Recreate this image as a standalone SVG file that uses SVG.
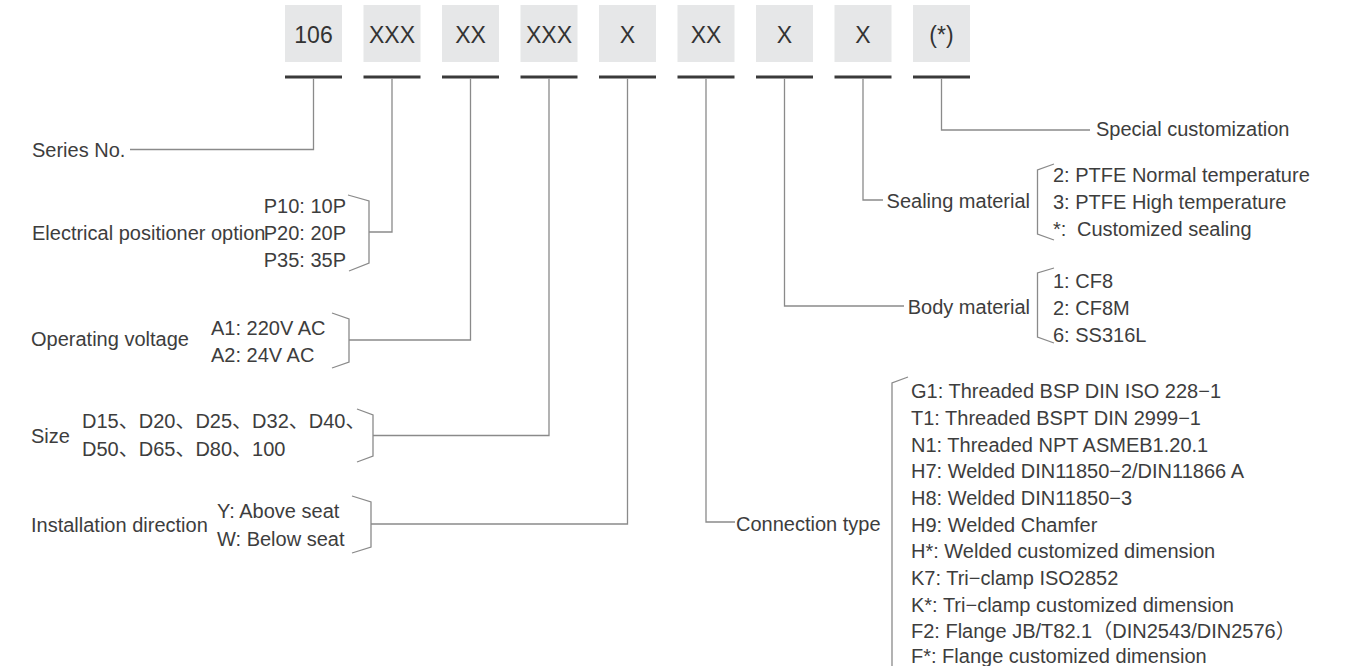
<svg xmlns="http://www.w3.org/2000/svg" width="1347" height="666" viewBox="0 0 1347 666">
<style>
.bx{fill:#e6e7e8}
.bt{font-family:"Liberation Sans",Arial,sans-serif;font-size:23px;fill:#333;text-anchor:middle}
.ul{stroke:#3a3a3a;stroke-width:3;fill:none}
.cn{stroke:#8a8a8a;stroke-width:1.3;fill:none}
.t{font-family:"Liberation Sans","Noto Sans CJK SC",sans-serif;font-size:20px;fill:#3d3d3d}
.e{text-anchor:end}
</style>
<rect width="1347" height="666" fill="#fff"/>
<g id="code">
<g id="c0"><rect class="bx" x="285" y="5" width="57" height="57"/><text class="bt" x="313.5" y="43">106</text><line class="ul" x1="285" y1="77" x2="342" y2="77"/></g>
<g id="c1"><rect class="bx" x="363.5" y="5" width="57" height="57"/><text class="bt" x="392" y="43">XXX</text><line class="ul" x1="363.5" y1="77" x2="420.5" y2="77"/></g>
<g id="c2"><rect class="bx" x="442" y="5" width="57" height="57"/><text class="bt" x="470.5" y="43">XX</text><line class="ul" x1="442" y1="77" x2="499" y2="77"/></g>
<g id="c3"><rect class="bx" x="520.5" y="5" width="57" height="57"/><text class="bt" x="549" y="43">XXX</text><line class="ul" x1="520.5" y1="77" x2="577.5" y2="77"/></g>
<g id="c4"><rect class="bx" x="599" y="5" width="57" height="57"/><text class="bt" x="627.5" y="43">X</text><line class="ul" x1="599" y1="77" x2="656" y2="77"/></g>
<g id="c5"><rect class="bx" x="677.5" y="5" width="57" height="57"/><text class="bt" x="706" y="43">XX</text><line class="ul" x1="677.5" y1="77" x2="734.5" y2="77"/></g>
<g id="c6"><rect class="bx" x="756" y="5" width="57" height="57"/><text class="bt" x="784.5" y="43">X</text><line class="ul" x1="756" y1="77" x2="813" y2="77"/></g>
<g id="c7"><rect class="bx" x="834.5" y="5" width="57" height="57"/><text class="bt" x="863" y="43">X</text><line class="ul" x1="834.5" y1="77" x2="891.5" y2="77"/></g>
<g id="c8"><rect class="bx" x="913" y="5" width="57" height="57"/><text class="bt" x="941.5" y="43">(*)</text><line class="ul" x1="913" y1="77" x2="970" y2="77"/></g>
</g>
<g id="connectors">
<path class="cn" d="M130 149.5H313.5V78.5"/>
<path class="cn" d="M369 232H392V78.5"/>
<path class="cn" d="M349 340H470.5V78.5"/>
<path class="cn" d="M373 435.5H549V78.5"/>
<path class="cn" d="M371 524H627.5V78.5"/>
<path class="cn" d="M735 522H706V78.5"/>
<path class="cn" d="M904 306H784.5V78.5"/>
<path class="cn" d="M883 200H863V78.5"/>
<path class="cn" d="M1090 130H941.5V78.5"/>
</g>
<g id="series">
<text class="t" x="32" y="157">Series No.</text>
</g>
<g id="positioner">
<text class="t" x="32" y="240">Electrical positioner option</text>
<text class="t e" x="346" y="213">P10: 10P</text>
<text class="t e" x="346" y="240">P20: 20P</text>
<text class="t e" x="346" y="267">P35: 35P</text>
<path class="cn" d="M348 195L369 201V263L349 271"/>
</g>
<g id="voltage">
<text class="t" x="31" y="346">Operating voltage</text>
<text class="t" x="211" y="335">A1: 220V AC</text>
<text class="t" x="211" y="362">A2: 24V AC</text>
<path class="cn" d="M332 313L349 319V362L332 368"/>
</g>
<g id="size">
<text class="t" x="31" y="443">Size</text>
<text class="t" x="82" y="428">D15、D20、D25、D32、D40、</text>
<text class="t" x="82" y="456">D50、D65、D80、100</text>
<path class="cn" d="M357 409L373 415V456L357 462"/>
</g>
<g id="direction">
<text class="t" x="31" y="532">Installation direction</text>
<text class="t" x="217" y="518">Y: Above seat</text>
<text class="t" x="217" y="546">W: Below seat</text>
<path class="cn" d="M352 496L371 502V547L352 553"/>
</g>
<g id="connection">
<text class="t" x="736" y="531">Connection type</text>
<path class="cn" d="M908 377L892 383V666"/>
<text class="t" x="911" y="398">G1: Threaded BSP DIN ISO 228−1</text>
<text class="t" x="911" y="425">T1: Threaded BSPT DIN 2999−1</text>
<text class="t" x="911" y="451.5">N1: Threaded NPT ASMEB1.20.1</text>
<text class="t" x="911" y="478">H7: Welded DIN11850−2/DIN11866 A</text>
<text class="t" x="911" y="505">H8: Welded DIN11850−3</text>
<text class="t" x="911" y="531.5">H9: Welded Chamfer</text>
<text class="t" x="911" y="558">H*: Welded customized dimension</text>
<text class="t" x="911" y="585">K7: Tri−clamp ISO2852</text>
<text class="t" x="911" y="611.5">K*: Tri−clamp customized dimension</text>
<text class="t" x="911" y="638">F2: Flange JB/T82.1（DIN2543/DIN2576）</text>
<text class="t" x="911" y="663">F*: Flange customized dimension</text>
</g>
<g id="body">
<text class="t e" x="1030" y="314">Body material</text>
<path class="cn" d="M1054 268L1037.5 273V337L1054 343"/>
<text class="t" x="1053" y="288">1: CF8</text>
<text class="t" x="1053" y="315">2: CF8M</text>
<text class="t" x="1053" y="342">6: SS316L</text>
</g>
<g id="sealing">
<text class="t e" x="1030" y="208">Sealing material</text>
<path class="cn" d="M1054 164L1037.5 170V234L1054 240"/>
<text class="t" x="1053" y="182">2: PTFE Normal temperature</text>
<text class="t" x="1053" y="209">3: PTFE High temperature</text>
<text class="t" x="1053" y="236">*:<tspan x="1077">Customized sealing</tspan></text>
</g>
<g id="special">
<text class="t" x="1096" y="136">Special customization</text>
</g>
</svg>
